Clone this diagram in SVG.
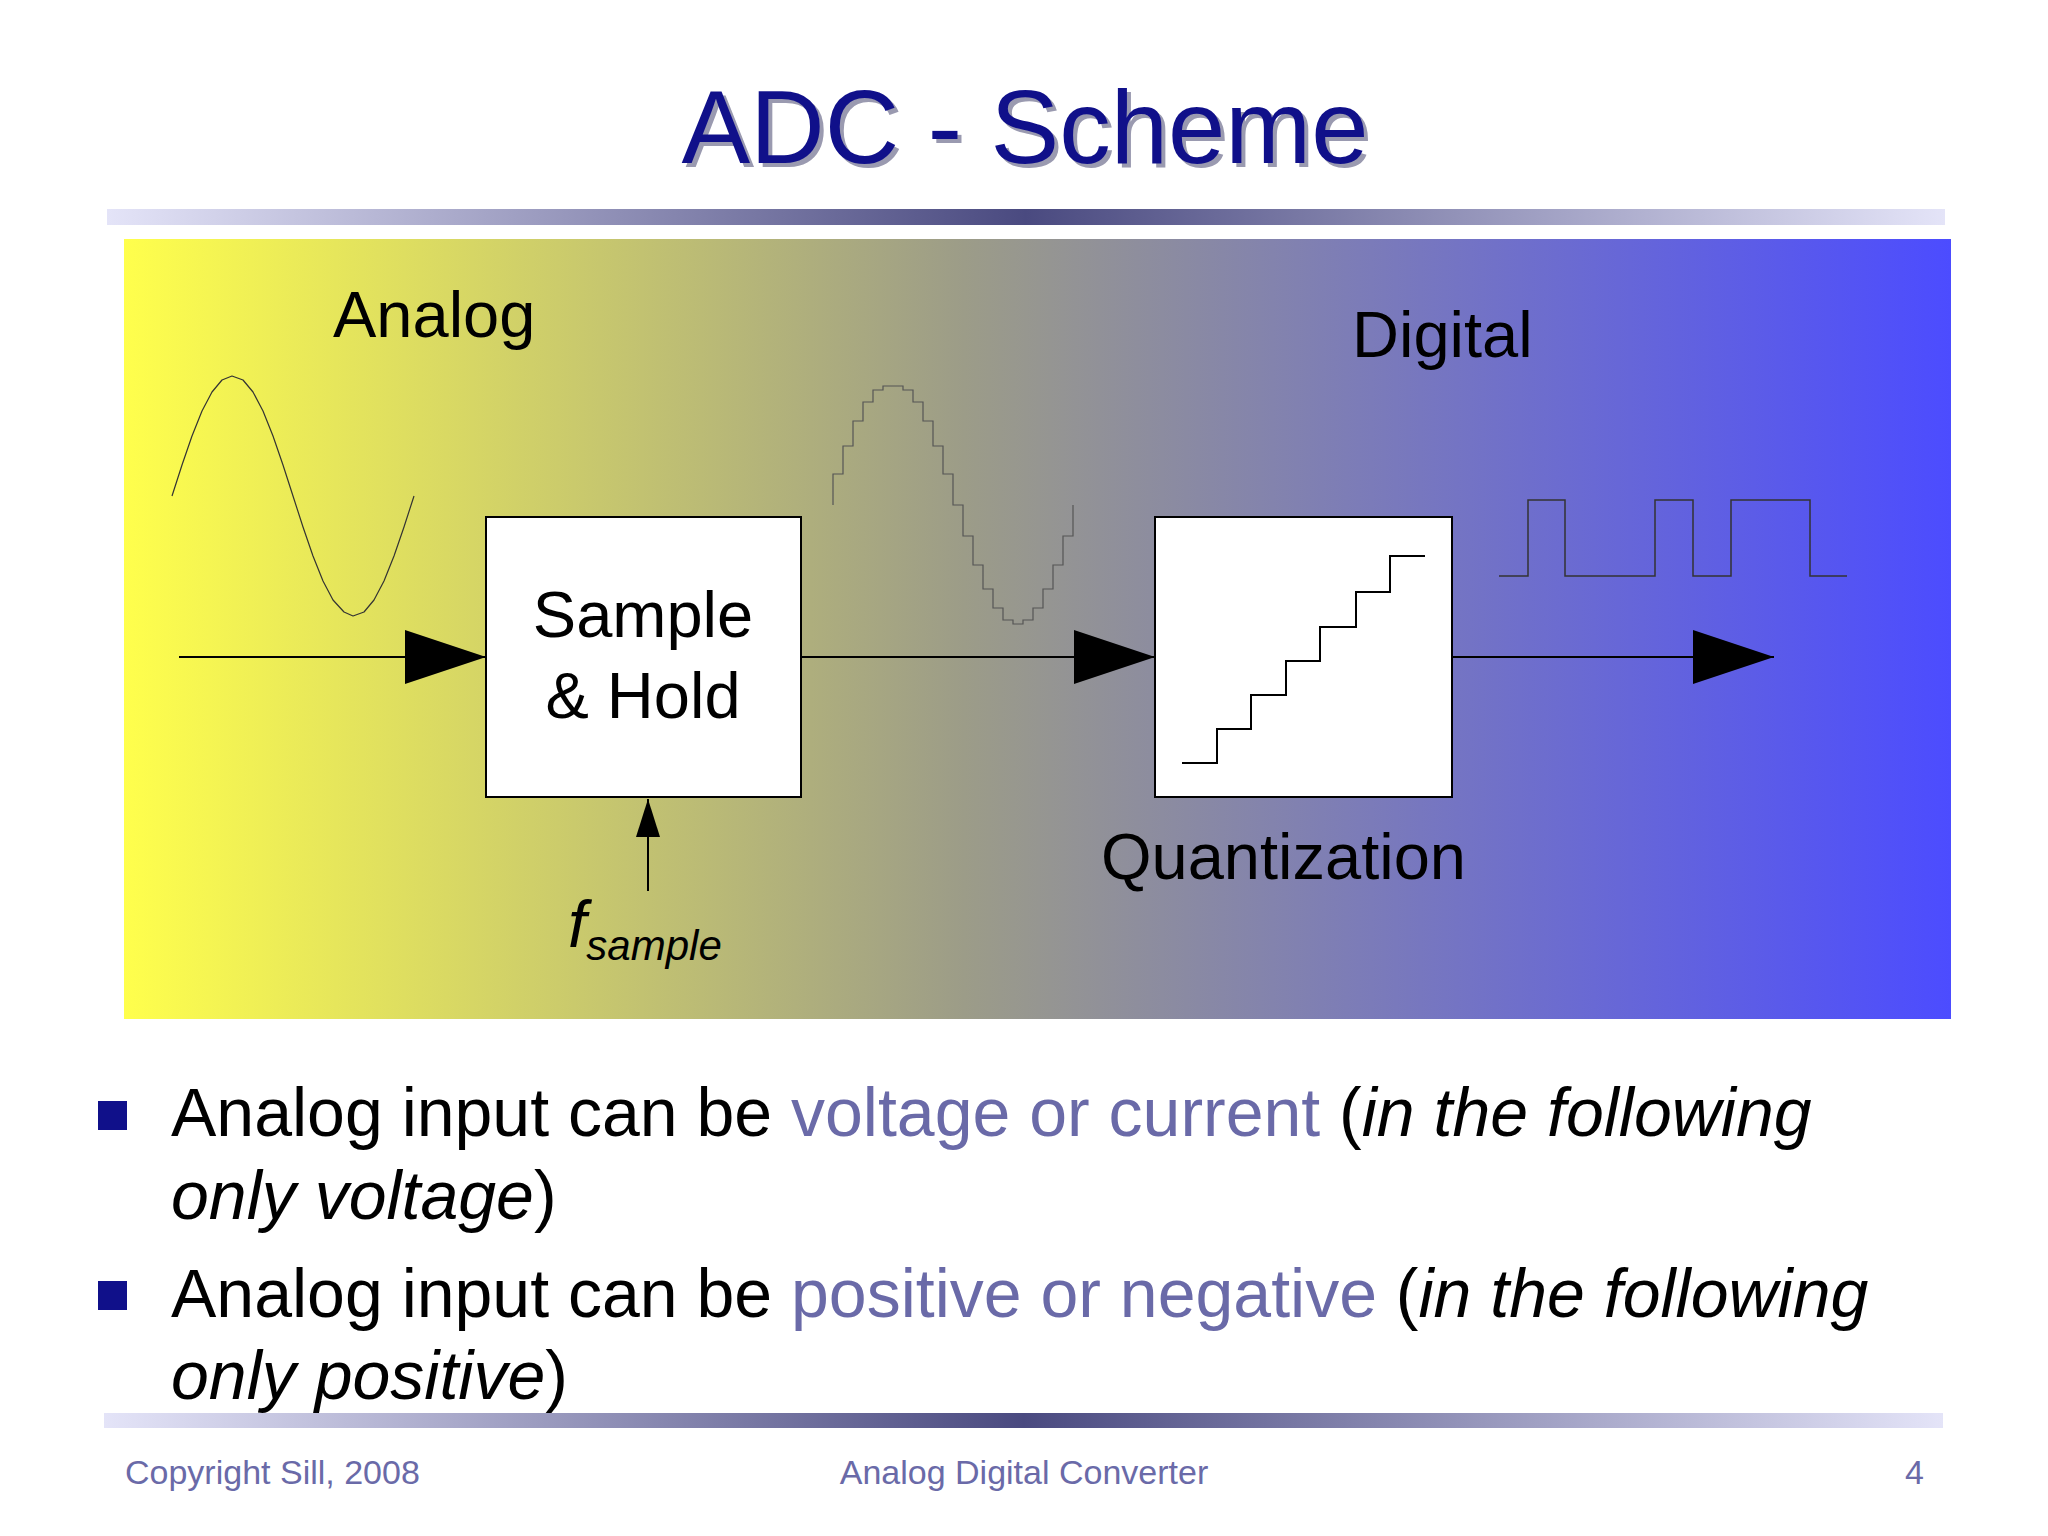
<svg xmlns="http://www.w3.org/2000/svg" width="2048" height="1536" viewBox="0 0 2048 1536">
<defs>
<linearGradient id="bar" x1="0" x2="1" y1="0" y2="0"><stop offset="0" stop-color="#e4e4f8"/><stop offset="0.5" stop-color="#4a4a80"/><stop offset="1" stop-color="#e4e4f8"/></linearGradient>
<linearGradient id="bg" x1="0" x2="1" y1="0" y2="0"><stop offset="0" stop-color="#ffff4c"/><stop offset="0.46" stop-color="#9c9c88"/><stop offset="1" stop-color="#4c4cff"/></linearGradient>
<marker id="ah" viewBox="0 0 81 54" refX="81" refY="27" markerWidth="81" markerHeight="54" markerUnits="userSpaceOnUse" orient="auto"><path d="M0,0 L81,27 L0,54 Z" fill="#000"/></marker>
<marker id="sh" viewBox="0 0 38 24" refX="38" refY="12" markerWidth="38" markerHeight="24" markerUnits="userSpaceOnUse" orient="auto"><path d="M0,0 L38,12 L0,24 Z" fill="#000"/></marker>
<style>
text{font-family:"Liberation Sans",Arial,sans-serif}
.lbl{font-size:65px;fill:#000}
.bul{font-size:68px;fill:#000}
.hl{fill:#6a6aa8}
.ft{font-size:34px;fill:#6a6aa8}
.box{fill:#fff;stroke:#000;stroke-width:2}
.ln{fill:none;stroke:#000;stroke-width:2}
</style>
</defs>
<rect width="2048" height="1536" fill="#fff"/>
<text x="1029" y="167" text-anchor="middle" font-size="103" fill="#9a9ab0">ADC - Scheme</text>
<text x="1025" y="163" text-anchor="middle" font-size="103" fill="#10108a">ADC - Scheme</text>
<rect x="107" y="209" width="1838" height="16" fill="url(#bar)"/>
<rect x="124" y="239" width="1827" height="780" fill="url(#bg)"/>
<text class="lbl" x="333" y="337">Analog</text>
<text class="lbl" x="1352" y="357">Digital</text>
<polyline points="172,496 182,465 192,436 202,411 212,392 222,380 232,376 243,380 253,392 263,411 273,436 283,465 293,496 303,527 313,556 323,581 333,600 344,612 353,616 364,612 374,600 384,581 394,556 404,527 414,496" fill="none" stroke="#333" stroke-width="1.2" stroke-linejoin="round"/>
<path d="M833,505 V474 H843 V446 H853 V421 H863 V402 H873 V390 H883 V386 H903 V390 H913 V402 H923 V421 H933 V446 H943 V474 H953 V505 H963 V536 H973 V565 H983 V589 H993 V608 H1003 V620 H1013 V624 H1023 V620 H1033 V608 H1043 V589 H1053 V565 H1063 V536 H1073 V505" fill="none" stroke="#555" stroke-width="1.2"/>
<path d="M1499,576 H1528 V500 H1565 V576 H1655 V500 H1693 V576 H1731 V500 H1810 V576 H1847" fill="none" stroke="#333" stroke-width="1.5"/>
<g id="connectors">
<line class="ln" x1="179" y1="657" x2="486" y2="657" marker-end="url(#ah)"/>
<line class="ln" x1="801" y1="657" x2="1155" y2="657" marker-end="url(#ah)"/>
<line class="ln" x1="1452" y1="657" x2="1774" y2="657" marker-end="url(#ah)"/>
<line class="ln" x1="648" y1="891" x2="648" y2="799" marker-end="url(#sh)"/>
</g>
<g id="sh-node">
<rect class="box" x="486" y="517" width="315" height="280"/>
<text class="lbl" x="643" y="637" text-anchor="middle">Sample</text>
<text class="lbl" x="643" y="718" text-anchor="middle">&amp; Hold</text>
</g>
<g id="quant-node">
<rect class="box" x="1155" y="517" width="297" height="280"/>
<path class="ln" d="M1182,763 H1217 V729 H1251 V695 H1286 V661 H1320 V627 H1356 V592 H1390 V556 H1425"/>
<text class="lbl" x="1101" y="879">Quantization</text>
</g>
<g id="fsample">
<text x="568" y="947" font-size="66" font-style="italic" fill="#000">f<tspan font-size="42" dy="13">sample</tspan></text>
</g>
<rect x="98" y="1101" width="29" height="29" fill="#10108a"/>
<rect x="98" y="1281" width="29" height="29" fill="#10108a"/>
<text class="bul" x="171" y="1136">Analog input can be <tspan class="hl">voltage or current</tspan> (<tspan font-style="italic">in the following</tspan></text>
<text class="bul" x="171" y="1219"><tspan font-style="italic">only voltage</tspan>)</text>
<text class="bul" x="171" y="1317">Analog input can be <tspan class="hl">positive or negative</tspan> (<tspan font-style="italic">in the following</tspan></text>
<text class="bul" x="171" y="1399"><tspan font-style="italic">only positive</tspan>)</text>
<rect x="104" y="1413" width="1839" height="15" fill="url(#bar)"/>
<text class="ft" x="125" y="1484">Copyright Sill, 2008</text>
<text class="ft" x="1024" y="1484" text-anchor="middle">Analog Digital Converter</text>
<text class="ft" x="1924" y="1484" text-anchor="end">4</text>
</svg>
